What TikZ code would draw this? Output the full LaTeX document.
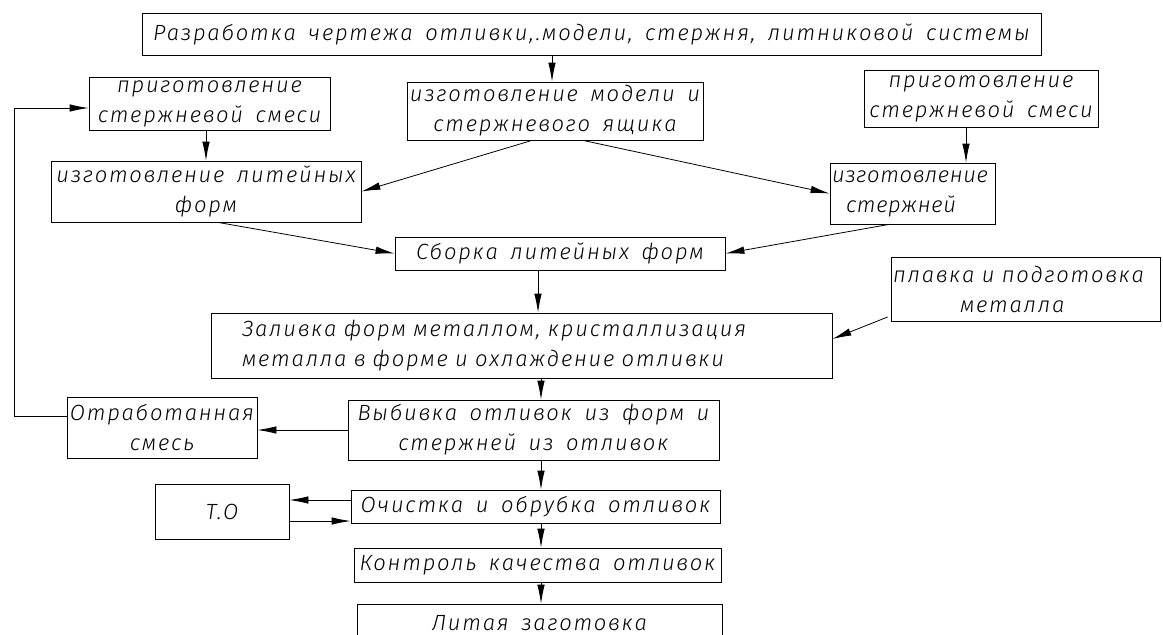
\documentclass[tikz,border=0pt]{standalone}
\usepackage{fontspec}
\newfontfamily\gost{Fira Sans Light Italic}[LetterSpace=8,WordSpace=1.6]
\newfontfamily\gostn{Fira Sans Light Italic}[LetterSpace=3,WordSpace=1.6]
\usetikzlibrary{arrows.meta}
\begin{document}
\begin{tikzpicture}[x=1pt,y=-1pt,
  box/.style={draw, line width=0.8pt, inner sep=0pt, align=center,
    font=\gost\fontsize{22}{30}\selectfont},
  arr/.style={line width=0.8pt, -{Latex[length=19pt,width=7.5pt]}}]
\useasboundingbox (0,0) rectangle (1163,635);
\node[box, minimum width=899pt, minimum height=42pt] (top) at (591.5,34) {Разработка чертежа отливки,.модели, стержня, литниковой системы};
\node[box, minimum width=241pt, minimum height=53pt] (prepL) at (209.5,103.5) {приготовление\\стержневой смеси};
\node[box, minimum width=296pt, minimum height=58pt] (model) at (555,111) {изготовление модели и\\стержневого ящика};
\node[box, minimum width=234pt, minimum height=57pt] (prepR) at (981,98.5) {приготовление\\стержневой смеси};
\node[box, minimum width=310pt, minimum height=61pt] (forms) at (206,191.5) {изготовление литейных\\форм};
\node[box, minimum width=165pt, minimum height=61pt, text width=161pt, align=left,
  font=\gostn\fontsize{22}{30}\selectfont] (cores) at (912.5,193.5) {изготовление\\\hspace*{14pt}стержней};
\node[box, minimum width=330pt, minimum height=33pt] (sborka) at (560,253.5) {Сборка литейных форм};
\node[box, minimum width=269pt, minimum height=64pt, text width=265pt, align=left] (plavka) at (1025.5,289) {плавка и подготовка\\\hspace*{67pt}металла};
\node[box, minimum width=621pt, minimum height=65pt, text width=559pt, align=left] (zalivka) at (521.5,345.5) {Заливка форм металлом, кристаллизация\\металла в форме и охлаждение отливки};
\node[box, minimum width=190pt, minimum height=61pt] (otrab) at (162,427.5) {Отработанная\\смесь};
\node[box, minimum width=371pt, minimum height=60pt] (vybivka) at (533.5,430) {Выбивка отливок из форм и\\стержней из отливок};
\node[box, minimum width=134pt, minimum height=55pt] (TO) at (222,511.5) {Т.О};
\node[box, minimum width=369pt, minimum height=33pt] (ochistka) at (535.5,506.5) {Очистка и обрубка отливок};
\node[box, minimum width=367pt, minimum height=34pt] (kontrol) at (537.5,565) {Контроль качества отливок};
\node[box, minimum width=365pt, minimum height=38pt] (litaya) at (539.5,623) {Литая заготовка};
% guide coordinates
\coordinate (xa) at (552,0);
\coordinate (xb) at (206,0);
\coordinate (xc) at (966,0);
\coordinate (xd) at (538,0);
\coordinate (xe) at (541,0);
\coordinate (fbA) at (14,416);
\coordinate (fbB) at (14,108);
\coordinate (yu) at (0,500);
\coordinate (yl) at (0,521);
% vertical arrows
\draw[arr] (xa |- top.south) -- (xa |- model.north);
\draw[arr] (xb |- prepL.south) -- (xb |- forms.north);
\draw[arr] (xc |- prepR.south) -- (xc |- cores.north);
\draw[arr] (xd |- sborka.south) -- (xd |- zalivka.north);
\draw[arr] (xe |- zalivka.south) -- (xe |- vybivka.north);
\draw[arr] (xe |- vybivka.south) -- (xe |- ochistka.north);
\draw[arr] (xe |- ochistka.south) -- (xe |- kontrol.north);
\draw[arr] (xe |- kontrol.south) -- (xe |- litaya.north);
% diagonal arrows
\draw[arr] ([xshift=-23pt]model.south) -- (forms.east);
\draw[arr] ([xshift=28pt]model.south) -- (cores.west);
\draw[arr] ([xshift=12pt]forms.south) -- (sborka.west);
\draw[arr] ([xshift=-23.5pt]cores.south) -- (sborka.east);
\draw[arr] ([xshift=-3pt,yshift=-28pt]plavka.west) -- ([yshift=6.5pt]zalivka.east);
% horizontal arrows
\draw[arr] (vybivka.west) -- (vybivka.west -| otrab.east);
\draw[arr] (ochistka.west |- yu) -- (TO.east |- yu);
\draw[arr] (TO.east |- yl) -- (ochistka.west |- yl);
% feedback loop
\draw[arr] (otrab.west |- fbA) -- (fbA) -- (fbB) -- (prepL.west |- fbB);
\end{tikzpicture}
\end{document}
